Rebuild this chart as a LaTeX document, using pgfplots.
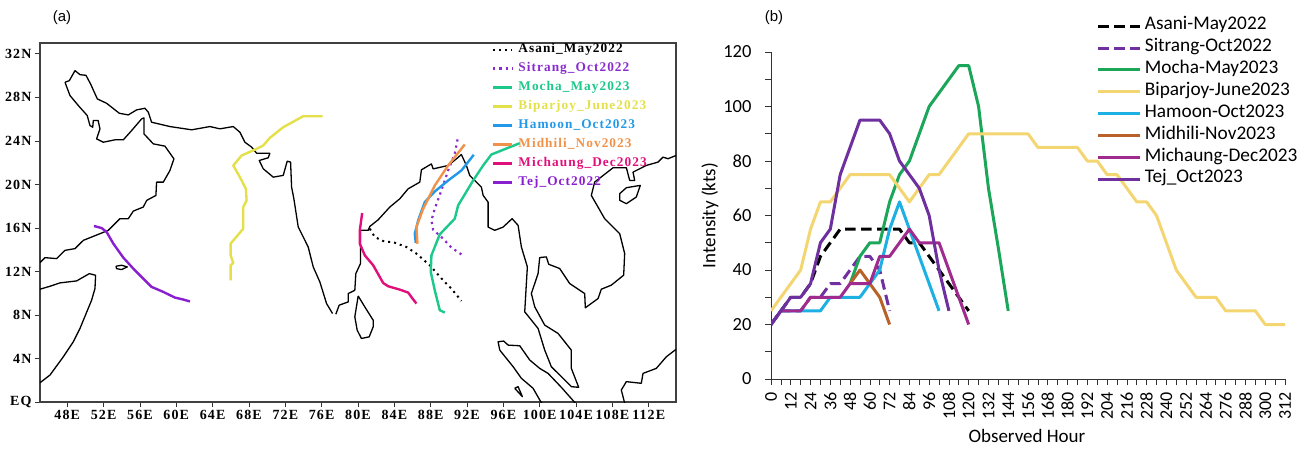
\documentclass[border=0pt]{standalone}
\usepackage{pgfplots}
\usepackage{pgfplotstable}
\usepackage{fontspec}
\pgfplotsset{compat=1.18}
\setmainfont{Carlito}
\newfontfamily\mapfont[LetterSpace=8]{Liberation Serif}
\newfontfamily\arialf{Liberation Sans}
\definecolor{mAsani}{HTML}{000000}
\definecolor{mSit}{HTML}{8A2BD0}
\definecolor{mMocha}{HTML}{1CC88A}
\definecolor{mBip}{HTML}{E4E04A}
\definecolor{mHam}{HTML}{2299E8}
\definecolor{mMid}{HTML}{F0924A}
\definecolor{mMic}{HTML}{E0107A}
\definecolor{mTej}{HTML}{8A1FD0}
\definecolor{bSit}{HTML}{7030A0}
\definecolor{bMocha}{HTML}{1BA65A}
\definecolor{bBip}{HTML}{F3D672}
\definecolor{bHam}{HTML}{1CB0E3}
\definecolor{bMid}{HTML}{B8622A}
\definecolor{bMic}{HTML}{A02B8F}
\definecolor{bTej}{HTML}{6F309F}
\pgfplotstableread{
h v
0 25
6 30
12 35
18 40
24 55
30 65
36 65
42 70
48 75
54 75
60 75
66 75
72 75
78 70
84 65
90 70
96 75
102 75
108 80
114 85
120 90
126 90
132 90
138 90
144 90
150 90
156 90
162 85
168 85
174 85
180 85
186 85
192 80
198 80
204 75
210 75
216 70
222 65
228 65
234 60
240 50
246 40
252 35
258 30
264 30
270 30
276 25
282 25
288 25
294 25
300 20
306 20
312 20
}\bipdata
\begin{document}
\begin{tikzpicture}[x=1pt,y=1pt]
\useasboundingbox (0,0) rectangle (1308,451);
\node[font=\arialf\fontsize{15}{15}\selectfont] at (62,433) {(a)};
\node[font=\arialf\fontsize{15}{15}\selectfont] at (774,433) {(b)};
% ---------- map
\begin{axis}[
  at={(40pt,49pt)}, anchor=south west, scale only axis, width=636pt, height=359pt,
  xmin=45, xmax=115, ymin=0, ymax=33,
  xtick={48,52,56,60,64,68,72,76,80,84,88,92,96,100,104,108,112},
  xticklabels={48E,52E,56E,60E,64E,68E,72E,76E,80E,84E,88E,92E,96E,100E,104E,108E,112E},
  ytick={0,4,8,12,16,20,24,28,32},
  yticklabels={EQ,4N,8N,12N,16N,20N,24N,28N,32N},
  tick align=outside, major tick length=5pt,
  xtick pos=bottom, ytick pos=left,
  tick style={line width=0.8pt,color=black!80},
  axis line style={line width=1.1pt,color=black!75},
  tick label style={font=\mapfont\bfseries\fontsize{14}{14}\selectfont},
  legend cell align=left,
  legend image code/.code={\draw[#1] (0pt,0pt) -- (19pt,0pt);},
  legend style={draw=none, fill=none, at={(0.7107,0.9985)}, anchor=north west, inner sep=0pt, outer sep=0pt,
    row sep=7pt, column sep=5pt,
    nodes={inner sep=0pt, text height=9pt, text depth=3pt, font=\mapfont\bfseries\fontsize{13.3}{13.3}\selectfont}},
  coast/.style={black, line width=1.3pt, line join=round, forget plot},
  track/.style={line width=2.4pt, line join=round},
]
% coasts
\addplot[coast] coordinates {(47.75,29.39)(48.23,29.54)(48.85,30.46)(49.40,30.09)(50.06,30.03)(50.57,29.23)(51.31,27.86)(52.33,27.46)(53.73,26.54)(54.72,26.39)(55.63,26.85)(56.55,27.0)(56.92,26.64)(57.28,25.72)(59.30,25.32)(61.69,25.02)(63.70,25.32)(64.80,25.11)(66.27,25.32)(67.0,24.8)(67.55,23.88)(68.29,23.43)(68.84,22.87)(70.30,22.87)(70.12,22.45)(69.13,22.2)(69.57,21.44)(70.67,20.67)(71.77,20.83)(72.21,22.14)(72.58,22.05)(72.69,19.76)(72.94,18.69)(73.42,16.09)(74.52,14.25)(75.07,12.42)(75.80,11.04)(76.54,9.05)(77.20,8.13)};
\addplot[coast] coordinates {(77.56,8.07)(77.93,8.90)(78.92,9.20)(78.92,9.97)(79.65,10.27)(79.76,11.80)(80.27,12.72)(80.27,15.78)(81.12,15.78)(81.3,16.14)(82.22,16.75)(83.5,17.92)(84.6,18.68)(85.52,19.6)(86.8,20.21)(86.98,21.34)(88.08,21.89)(88.27,21.43)(89.92,21.74)(90.83,22.35)(91.38,22.75)(91.93,21.74)(92.3,20.82)(93.58,19.75)(93.77,19.0)(94.32,18.37)(94.32,16.08)(95.05,15.78)(95.97,16.08)(96.96,16.85)(97.62,16.24)(97.98,14.26)(98.64,12.42)(98.53,10.89)(98.35,8.29)(99.82,6.76)(100.55,4.77)(101.28,3.24)(102.57,2.18)(103.48,1.41)(104.29,1.35)(103.48,3.09)(103.48,4.77)(102.02,6.3)(100.55,7.07)(99.45,8.75)(99.08,9.97)(99.82,11.81)(100.0,13.28)(100.73,13.34)(100.99,12.66)(102.2,12.27)(103.3,10.89)(104.95,9.97)(105.02,8.66)(106.42,9.51)(106.78,10.37)(107.88,10.74)(109.24,11.66)(109.35,13.64)(108.8,15.48)(107.15,16.85)(105.68,18.99)(106.05,20.22)(108.07,21.53)(109.54,21.53)(109.9,20.37)(110.45,20.37)(110.27,21.13)(111.74,21.75)(113.02,22.05)(113.57,22.51)(114.12,22.36)(115,22.66)};
\addplot[coast] coordinates {(108.8,19.15)(109.54,19.70)(111.07,19.91)(110.63,18.84)(109.54,18.23)(108.8,18.54)(108.8,19.15)};
\addplot[coast] coordinates {(95.6,4.77)(95.42,5.54)(96.04,5.60)(96.52,5.23)(97.8,5.17)(98.9,3.86)(100.0,3.09)(100.92,2.63)(102.38,1.35)(103.12,0.65)(104.03,-0.2)};
\addplot[coast] coordinates {(95.6,4.77)(97.07,3.25)(97.98,2.18)(99.27,1.26)(100.11,0.03)(100.4,-0.3)};
\addplot[coast] coordinates {(97.25,1.26)(97.62,1.41)(98.09,0.49)(97.25,1.26)};
\addplot[coast] coordinates {(115,4.84)(113.94,4.16)(112.83,3.09)(111.37,2.63)(111.18,1.72)(109.53,1.87)(108.98,1.1)(109.35,-0.1)};
\addplot[coast] coordinates {(80.02,9.75)(80.75,8.74)(81.67,7.52)(81.67,6.91)(81.23,5.99)(80.38,5.84)(79.91,6.6)(79.65,7.83)(80.02,9.75)};
\addplot[coast] coordinates {(47.75,29.39)(48.3,28.17)(49.22,27.25)(50.2,26.33)(50.5,25.41)(50.8,25.26)(50.87,25.87)(51.4,25.87)(51.6,25.1)(51.23,24.19)(51.97,23.88)(53.25,24.1)(54.17,24.1)(55.08,24.95)(56.18,26.02)(56.44,26.12)(56.44,24.65)(57.47,23.73)(58.75,23.52)(59.74,22.35)(59.3,21.28)(58.57,20.21)(57.83,20.21)(57.76,18.99)(56.74,18.53)(56.37,17.92)(55.27,17.55)(54.72,16.85)(53.8,16.85)(52.52,15.78)(49.77,14.86)(48.85,14.1)(47.75,13.94)(46.83,13.18)(45.55,13.27)(45,12.81)};
\addplot[coast] coordinates {(45,10.37)(46.1,10.64)(47.2,10.95)(49.03,11.13)(50.43,11.8)(51.12,11.65)(51.05,10.43)(50.68,9.36)(49.4,6.76)(48.67,5.54)(47.57,4.16)(46.1,2.48)(45,1.77)};
\addplot[coast] coordinates {(53.36,12.48)(53.98,12.57)(54.61,12.42)(53.98,12.17)(53.43,12.26)(53.36,12.48)};
% tracks
\addplot[track, line width=2pt, black, dash pattern=on 2pt off 4pt] coordinates {(81.3,15.93)(81.85,15.16)(82.77,14.8)(84.05,14.64)(85.33,14.25)(86.43,13.64)(87.9,12.57)(89.37,11.19)(90.28,10.42)(91.38,9.29)};
\addlegendentry{\textcolor{mAsani}{Asani\_May2022}}
\addplot[track, line width=2.2pt, mSit, dash pattern=on 2.2pt off 4pt] coordinates {(91.38,13.57)(90.28,14.19)(89.37,15.01)(88.27,15.84)(88.08,16.69)(88.45,17.76)(89.18,19.45)(89.92,21.28)(90.65,22.81)(91.02,24.4)};
\addlegendentry{\textcolor{mSit}{Sitrang\_Oct2022}}
\addplot[track, mMocha] coordinates {(89.55,8.22)(89.0,8.44)(88.45,10.27)(88.01,11.95)(88.08,13.48)(89.0,15.41)(90.65,16.85)(91.02,18.07)(92.67,20.36)(93.77,21.74)(94.68,22.75)(97.8,23.79)};
\addlegendentry{\textcolor{mMocha}{Mocha\_May2023}}
\addplot[track, mBip] coordinates {(65.98,11.19)(65.98,12.57)(66.27,12.78)(65.98,13.49)(65.98,14.56)(67.37,15.93)(67.37,17.92)(67.74,18.53)(67.66,19.6)(67.0,20.67)(66.27,21.74)(67.19,22.66)(68.84,23.27)(69.57,23.58)(70.3,24.28)(71.77,25.26)(73.97,26.27)(76.1,26.27)};
\addlegendentry{\textcolor{mBip}{Biparjoy\_June2023}}
\addplot[track, mHam] coordinates {(86.36,14.61)(86.25,15.47)(86.62,16.69)(87.35,18.38)(88.45,19.35)(89.92,20.36)(91.38,21.28)(92.74,22.72)};
\addlegendentry{\textcolor{mHam}{Hamoon\_Oct2023}}
\addplot[track, mMid] coordinates {(86.54,14.55)(86.43,16.08)(87.17,17.76)(88.45,19.9)(89.92,21.74)(91.75,23.67)};
\addlegendentry{\textcolor{mMid}{Midhili\_Nov2023}}
\addplot[track, mMic] coordinates {(86.43,9.05)(86,9.51)(85.52,10.06)(84.6,10.33)(83.32,10.64)(82.77,10.94)(81.67,12.57)(80.75,13.48)(80.2,14.55)(80.2,15.78)(80.46,17.37)};
\addlegendentry{\textcolor{mMic}{Michaung\_Dec2023}}
\addplot[track, mTej] coordinates {(61.5,9.24)(60.77,9.42)(59.85,9.6)(58.57,10.12)(57.28,10.58)(56.18,11.5)(55.27,12.26)(54.17,13.27)(53.07,14.56)(52.33,15.63)(51.78,15.99)(50.94,16.18)};
\addlegendentry{\textcolor{mTej}{Tej\_Oct2022}}
\end{axis}
% ---------- intensity
\begin{axis}[
  at={(771pt,72pt)}, anchor=south west, scale only axis, width=514pt, height=327pt,
  xmin=0, xmax=312, ymin=0, ymax=120,
  axis lines=left, axis line style={-, line width=0.8pt, color=black!80},
  xtick={0,12,...,312}, minor x tick num=1,
  ytick={0,20,...,120}, minor y tick num=1,
  tick align=outside, major tick length=6pt, minor tick length=6pt,
  tick style={line width=0.7pt,color=black!80},
  /pgf/number format/assume math mode=true,
  xticklabel shift=4pt, yticklabel shift=10pt,
  x tick label style={rotate=90, anchor=east, font=\fontsize{18}{18}\selectfont},
  y tick label style={font=\fontsize{18.5}{18.5}\selectfont},
  xlabel={Observed Hour}, ylabel={Intensity (kts)},
  every axis x label/.style={at={(rel axis cs:0.498,-0.174)},anchor=center,font=\fontsize{19}{19}\selectfont},
  every axis y label/.style={at={(rel axis cs:-0.119,0.5)},rotate=90,anchor=center,font=\fontsize{19}{19}\selectfont},
  legend cell align=left,
  legend image code/.code={\draw[#1] (0pt,0pt) -- (42pt,0pt);},
  legend style={draw=none, fill=none, at={(0.634,1.105)}, anchor=north west, inner sep=0pt, outer sep=0pt,
    row sep=4.9pt, column sep=3pt,
    nodes={inner sep=0pt, text height=12pt, text depth=5pt, font=\fontsize{19.3}{19.3}\selectfont}},
  ser/.style={line width=3pt, line join=round},
]
\addplot[ser, black, dash pattern=on 10.5pt off 5.5pt] coordinates {(0,20)(6,25)(12,30)(18,30)(24,35)(30,45)(36,50)(42,55)(48,55)(54,55)(60,55)(66,55)(72,55)(78,55)(84,50)(90,50)(96,45)(102,40)(108,35)(114,30)(120,25)};
\addlegendentry{Asani-May2022}
\addplot[ser, bSit, dash pattern=on 10.5pt off 5.5pt] coordinates {(0,20)(6,25)(12,25)(18,25)(24,30)(30,30)(36,35)(42,35)(48,40)(54,45)(60,45)(66,40)(72,25)};
\addlegendentry{Sitrang-Oct2022}
\addplot[ser, bMocha] coordinates {(48,35)(54,45)(60,50)(66,50)(72,65)(78,75)(84,80)(90,90)(96,100)(102,105)(108,110)(114,115)(120,115)(126,100)(132,70)(138,48)(144,25)};
\addlegendentry{Mocha-May2023}
\addplot[ser, bBip] table[x=h,y=v] {\bipdata};
\addlegendentry{Biparjoy-June2023}
\addplot[ser, bHam] coordinates {(0,20)(6,25)(12,25)(18,25)(24,25)(30,25)(36,30)(42,30)(48,30)(54,30)(60,35)(66,40)(72,55)(78,65)(84,55)(90,45)(96,35)(102,25)};
\addlegendentry{Hamoon-Oct2023}
\addplot[ser, bMid] coordinates {(48,35)(54,40)(60,35)(66,30)(72,20)};
\addlegendentry{Midhili-Nov2023}
\addplot[ser, bMic] coordinates {(0,20)(6,25)(12,25)(18,25)(24,30)(30,30)(36,30)(42,30)(48,35)(54,35)(60,35)(66,45)(72,45)(78,50)(84,55)(90,50)(96,50)(102,50)(108,40)(114,30)(120,20)};
\addlegendentry{Michaung-Dec2023}
\addplot[ser, bTej] coordinates {(0,20)(6,25)(12,30)(18,30)(24,35)(30,50)(36,55)(42,75)(48,85)(54,95)(60,95)(66,95)(72,90)(78,80)(84,75)(90,70)(96,60)(102,40)(108,25)};
\addlegendentry{Tej\_Oct2023}
\end{axis}
\end{tikzpicture}
\end{document}
